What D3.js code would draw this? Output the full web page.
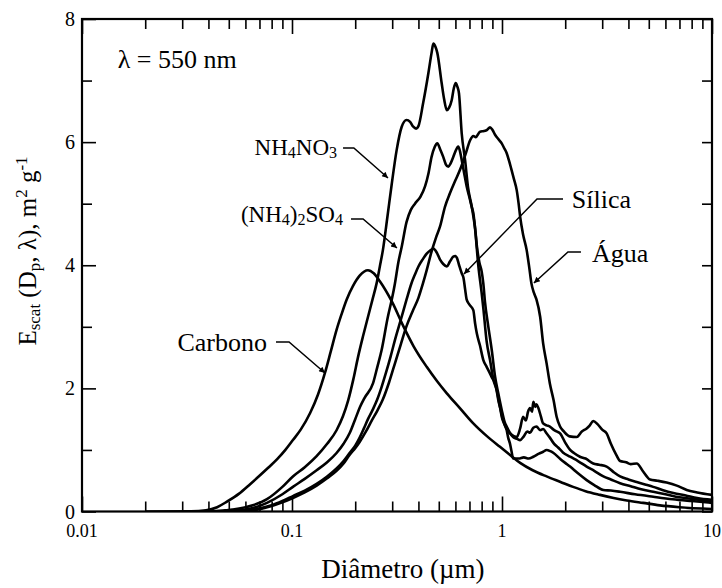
<!DOCTYPE html>
<html>
<head>
<meta charset="utf-8">
<script src="https://cdn.jsdelivr.net/npm/d3@7"></script>
<style>
  body { margin: 0; background: #fff; }
</style>
</head>
<body>
<div id="chart"></div>
<script>
// Mass scattering efficiency vs particle diameter, lambda = 550 nm
// each series: [diameter (um), Escat (m2/g)]

var carbono = [[0.02,0],[0.033,0.003],[0.039,0.02],[0.044,0.07],[0.049,0.16],[0.056,0.29],[0.063,0.44],[0.07,0.58],
  [0.077,0.71],[0.085,0.85],[0.093,1.0],[0.101,1.16],[0.11,1.33],[0.122,1.6],[0.133,1.9],[0.1435,2.25],[0.153,2.6],
  [0.163,2.95],[0.172,3.2],[0.182,3.44],[0.195,3.66],[0.21,3.83],[0.23,3.92],[0.245,3.87],[0.262,3.74],[0.3,3.4],
  [0.338,3.02],[0.38,2.68],[0.438,2.35],[0.49,2.12],[0.546,1.92],[0.63,1.68],[0.726,1.44],[0.85,1.22],[0.978,1.05],
  [1.1,0.91],[1.22,0.79],[1.4,0.67],[1.63,0.57],[1.9,0.48],[2.18,0.4],[2.5,0.33],[2.93,0.27],[3.4,0.22],[3.93,0.18],
  [4.7,0.14],[5.65,0.1],[7,0.07],[10,0.04]];

var nh4no3 = [[0.04,0],[0.052,0.03],[0.065,0.1],[0.076,0.2],[0.09,0.4],[0.101,0.57],[0.115,0.72],[0.131,0.9],
  [0.147,1.1],[0.163,1.32],[0.175,1.55],[0.185,1.8],[0.196,2.15],[0.206,2.5],[0.218,2.85],[0.23,3.16],[0.242,3.45],
  [0.253,3.71],[0.262,3.98],[0.271,4.25],[0.285,4.8],[0.298,5.3],[0.315,5.87],[0.333,6.25],[0.351,6.36],[0.365,6.33],
  [0.378,6.25],[0.39,6.22],[0.4,6.26],[0.421,6.63],[0.446,7.12],[0.462,7.45],[0.471,7.6],[0.482,7.55],[0.492,7.45],
  [0.516,6.96],[0.53,6.7],[0.546,6.52],[0.56,6.56],[0.576,6.68],[0.59,6.88],[0.602,6.96],[0.613,6.9],[0.624,6.79],
  [0.643,6.14],[0.667,5.71],[0.69,5.25],[0.718,4.95],[0.744,4.6],[0.771,4.0],[0.8,3.55],[0.815,3.3],[0.846,2.75],
  [0.877,2.46],[0.91,2.14],[0.944,1.97],[0.978,1.7],[1.01,1.5],[1.04,1.38],[1.07,1.3],[1.1,1.26],[1.175,1.21],
  [1.22,1.35],[1.26,1.54],[1.3,1.48],[1.33,1.62],[1.36,1.68],[1.39,1.62],[1.41,1.78],[1.44,1.7],[1.46,1.74],
  [1.49,1.68],[1.53,1.55],[1.57,1.43],[1.63,1.4],[1.69,1.38],[1.76,1.33],[1.82,1.3],[1.89,1.27],[2.0,1.12],
  [2.11,1.0],[2.2,0.95],[2.35,0.89],[2.5,0.86],[2.72,0.78],[2.9,0.76],[3.15,0.73],[3.4,0.64],[3.65,0.57],[4.0,0.52],
  [4.38,0.48],[4.8,0.44],[5.25,0.4],[5.8,0.35],[6.55,0.3],[7.5,0.26],[8.5,0.22],[10,0.19]];

var nh42so4 = [[0.045,0],[0.06,0.03],[0.076,0.14],[0.09,0.28],[0.101,0.4],[0.115,0.53],[0.131,0.67],[0.147,0.8],
  [0.163,0.95],[0.176,1.1],[0.188,1.27],[0.2,1.5],[0.211,1.7],[0.222,1.85],[0.243,2.08],[0.255,2.35],[0.267,2.62],
  [0.286,3.16],[0.299,3.45],[0.309,3.7],[0.321,4.05],[0.333,4.3],[0.351,4.7],[0.368,4.9],[0.385,5.0],[0.41,5.12],
  [0.43,5.28],[0.447,5.5],[0.462,5.76],[0.478,5.92],[0.492,5.98],[0.508,5.88],[0.525,5.76],[0.54,5.64],[0.555,5.6],
  [0.57,5.66],[0.586,5.76],[0.6,5.85],[0.619,5.93],[0.631,5.85],[0.643,5.71],[0.66,5.5],[0.679,5.28],[0.7,5.1],
  [0.717,4.95],[0.73,4.85],[0.745,4.6],[0.76,4.3],[0.78,4.05],[0.8,3.9],[0.815,3.7],[0.83,3.4],[0.861,3.0],
  [0.894,2.62],[0.927,2.19],[0.96,1.92],[0.997,1.65],[1.03,1.45],[1.053,1.38],[1.09,1.28],[1.13,1.21],[1.18,1.18],
  [1.22,1.16],[1.27,1.22],[1.32,1.3],[1.36,1.28],[1.41,1.36],[1.46,1.38],[1.52,1.32],[1.57,1.34],[1.63,1.27],
  [1.69,1.2],[1.76,1.11],[1.85,1.04],[1.95,0.96],[2.11,0.89],[2.3,0.82],[2.53,0.73],[2.75,0.66],[3.04,0.57],
  [3.3,0.52],[3.65,0.46],[4.1,0.41],[4.6,0.36],[5.25,0.32],[6,0.28],[7,0.23],[8.3,0.2],[10,0.16]];

var silica = [[0.05,0],[0.065,0.03],[0.08,0.1],[0.09,0.17],[0.101,0.25],[0.115,0.34],[0.131,0.45],[0.147,0.57],
  [0.163,0.7],[0.176,0.82],[0.188,0.95],[0.2,1.07],[0.21,1.2],[0.22,1.35],[0.23,1.5],[0.242,1.65],[0.254,1.81],
  [0.267,2.02],[0.28,2.25],[0.295,2.52],[0.31,2.8],[0.33,3.12],[0.351,3.44],[0.37,3.7],[0.385,3.85],[0.4,3.98],
  [0.42,4.1],[0.438,4.19],[0.455,4.24],[0.471,4.27],[0.49,4.2],[0.507,4.09],[0.525,4.02],[0.546,3.98],[0.565,4.06],
  [0.586,4.14],[0.6,4.15],[0.61,4.12],[0.625,4.0],[0.643,3.87],[0.655,3.8],[0.668,3.6],[0.679,3.44],[0.7,3.36],
  [0.73,3.27],[0.745,3.05],[0.759,2.89],[0.785,2.7],[0.815,2.46],[0.845,2.35],[0.877,2.24],[0.9,2.16],[0.927,2.08],
  [0.945,1.95],[0.96,1.81],[0.98,1.68],[0.997,1.54],[1.025,1.42],[1.053,1.32],[1.07,1.2],[1.09,1.11],[1.11,0.98],
  [1.13,0.86],[1.2,0.86],[1.27,0.88],[1.34,0.86],[1.41,0.89],[1.5,0.94],[1.57,0.97],[1.63,1.0],[1.7,0.98],
  [1.76,0.95],[1.9,0.85],[2.0,0.79],[2.11,0.73],[2.3,0.62],[2.53,0.51],[2.75,0.43],[3.04,0.35],[3.3,0.34],
  [3.65,0.32],[4.3,0.28],[5.25,0.24],[6.5,0.2],[8,0.17],[10,0.14]];

var agua = [[0.05,0],[0.065,0.02],[0.08,0.09],[0.09,0.15],[0.101,0.22],[0.115,0.31],[0.131,0.42],[0.147,0.54],
  [0.163,0.66],[0.176,0.78],[0.188,0.92],[0.2,1.03],[0.21,1.13],[0.225,1.3],[0.24,1.48],[0.255,1.64],[0.27,1.81],
  [0.29,2.1],[0.31,2.42],[0.33,2.72],[0.35,3.0],[0.375,3.25],[0.4,3.47],[0.42,3.7],[0.438,3.92],[0.46,4.2],
  [0.485,4.45],[0.507,4.63],[0.535,4.95],[0.565,5.17],[0.6,5.38],[0.631,5.55],[0.67,5.8],[0.705,6.03],[0.73,6.1],
  [0.75,6.08],[0.786,6.17],[0.82,6.18],[0.85,6.2],[0.877,6.24],[0.9,6.2],[0.927,6.12],[0.96,6.05],[0.997,5.98],
  [1.025,5.9],[1.053,5.82],[1.08,5.7],[1.11,5.55],[1.14,5.4],[1.175,5.22],[1.2,5.0],[1.22,4.79],[1.26,4.5],
  [1.31,4.25],[1.35,3.95],[1.38,3.71],[1.42,3.55],[1.46,3.44],[1.52,3.16],[1.57,2.73],[1.63,2.41],[1.69,2.08],
  [1.76,1.81],[1.82,1.54],[1.89,1.38],[1.97,1.3],[2.1,1.22],[2.27,1.21],[2.4,1.3],[2.53,1.35],[2.62,1.4],
  [2.72,1.47],[2.85,1.42],[3.0,1.33],[3.15,1.27],[3.3,1.1],[3.5,0.92],[3.65,0.82],[3.9,0.8],[4.1,0.77],[4.38,0.78],
  [4.7,0.65],[5.07,0.52],[5.5,0.5],[6.08,0.47],[6.8,0.42],[7.58,0.35],[8.5,0.31],[10,0.27]];

var series = [carbono, nh4no3, nh42so4, silica, agua];

// axis ticks
var xMajor = [0.01, 0.1, 1, 10];
var xMajorLabels = ["0.01", "0.1", "1", "10"];
var xMinor = [0.02,0.03,0.04,0.05,0.06,0.07,0.08,0.09, 0.2,0.3,0.4,0.5,0.6,0.7,0.8,0.9, 2,3,4,5,6,7,8,9];
var yMajor = [0, 2, 4, 6, 8];
var yMinor = [1, 3, 5, 7];

// curve labels: text parts [string, isSubscript], text anchor, leader points (all in data units)
var labels = [
  { parts: [["NH",0],["4",1],["NO",0],["3",1]], size: 23, at: [0.164, 5.79], anchor: "end",
    leader: [[0.175, 5.905], [0.197, 5.905], [0.2865, 5.417]] },
  { parts: [["(NH",0],["4",1],[")",0],["2",1],["SO",0],["4",1]], size: 23, at: [0.175, 4.70], anchor: "end",
    leader: [[0.191, 4.751], [0.218, 4.751], [0.316, 4.28]] },
  { parts: [["Carbono",0]], size: 26, at: [0.076, 2.607], anchor: "end",
    leader: [[0.0839, 2.753], [0.0968, 2.753], [0.1436, 2.25]] },
  { parts: [["Sílica",0]], size: 26, at: [2.15, 4.93], anchor: "start",
    leader: [[1.952, 5.076], [1.468, 5.076], [0.659, 3.858]] },
  { parts: [["Água",0]], size: 26, at: [2.68, 4.05], anchor: "start",
    leader: [[2.377, 4.215], [2.061, 4.215], [1.419, 3.712]] }
];

(function() {
  var width = 722, height = 588;
  var serif = "'Liberation Serif'";

  var svg = d3.select("#chart").append("svg")
    .attr("width", width)
    .attr("height", height);

  var xScale = d3.scaleLog().domain([0.01, 10]).range([82, 712]);
  var yScale = d3.scaleLinear().domain([0, 8]).range([511.5, 19]);

  var x0 = xScale.range()[0], x1 = xScale.range()[1];
  var y0 = yScale.range()[1], y1 = yScale.range()[0];

  svg.append("defs").append("clipPath").attr("id", "plot")
    .append("rect").attr("x", x0).attr("y", y0).attr("width", x1 - x0).attr("height", y1 - y0);

  var marker = svg.select("defs").append("marker")
    .attr("id", "arrow")
    .attr("viewBox", "0 0 10 10")
    .attr("refX", 10).attr("refY", 5)
    .attr("markerUnits", "userSpaceOnUse")
    .attr("markerWidth", 10).attr("markerHeight", 6)
    .attr("orient", "auto");
  marker.append("path").attr("d", "M0,0 L10,5 L0,10 z").attr("fill", "#000");

  // ticks (inward on all four sides)
  function drawTicks(axis, values, len) {
    var g = svg.append("g")
      .call(axis.tickValues(values).tickSizeInner(-len).tickSizeOuter(0).tickFormat(""));
    g.select(".domain").remove();
    g.selectAll(".tick line").attr("stroke", "#000").attr("stroke-width", 1.6);
    return g;
  }
  drawTicks(d3.axisBottom(xScale), xMajor, 15).attr("transform", "translate(0," + y1 + ")");
  drawTicks(d3.axisBottom(xScale), xMinor, 10).attr("transform", "translate(0," + y1 + ")");
  drawTicks(d3.axisTop(xScale), xMajor, 15).attr("transform", "translate(0," + y0 + ")");
  drawTicks(d3.axisTop(xScale), xMinor, 10).attr("transform", "translate(0," + y0 + ")");
  drawTicks(d3.axisLeft(yScale), yMajor, 14).attr("transform", "translate(" + x0 + ",0)");
  drawTicks(d3.axisLeft(yScale), yMinor, 10).attr("transform", "translate(" + x0 + ",0)");
  drawTicks(d3.axisRight(yScale), yMajor, 10).attr("transform", "translate(" + x1 + ",0)");
  drawTicks(d3.axisRight(yScale), yMinor, 10).attr("transform", "translate(" + x1 + ",0)");

  // frame
  svg.append("rect")
    .attr("x", x0).attr("y", y0)
    .attr("width", x1 - x0).attr("height", y1 - y0)
    .attr("fill", "none").attr("stroke", "#000").attr("stroke-width", 2.2);

  // tick labels
  svg.selectAll(".xlab").data(xMajor).enter().append("text")
    .attr("x", function(d) { return xScale(d); })
    .attr("y", 537)
    .attr("text-anchor", "middle")
    .style("font-family", serif)
    .attr("font-size", 18)
    .text(function(d, i) { return xMajorLabels[i]; });

  svg.selectAll(".ylab").data(yMajor).enter().append("text")
    .attr("x", x0 - 7)
    .attr("y", function(d) { return yScale(d) + 7; })
    .attr("text-anchor", "end")
    .style("font-family", serif)
    .attr("font-size", 20)
    .text(function(d) { return d; });

  // axis titles
  svg.append("text")
    .attr("x", 403).attr("y", 578)
    .attr("text-anchor", "middle")
    .style("font-family", serif)
    .attr("font-size", 27)
    .text("Diâmetro (µm)");

  var yt = svg.append("text")
    .attr("transform", "translate(36,251) rotate(-90)")
    .attr("text-anchor", "middle")
    .style("font-family", serif)
    .attr("font-size", 25);
  yt.append("tspan").text("E");
  yt.append("tspan").attr("font-size", 17).attr("dy", 4).text("scat");
  yt.append("tspan").attr("dy", -4).text(" (D");
  yt.append("tspan").attr("font-size", 17).attr("dy", 4).text("p");
  yt.append("tspan").attr("dy", -4).text(", λ), m");
  yt.append("tspan").attr("font-size", 17).attr("dy", -9).text("2");
  yt.append("tspan").attr("dy", 9).text(" g");
  yt.append("tspan").attr("font-size", 17).attr("dy", -9).text("-1");

  // curves
  var line = d3.line()
    .x(function(d) { return xScale(d[0]); })
    .y(function(d) { return yScale(d[1]); })
    .curve(d3.curveMonotoneX);

  svg.append("g").attr("clip-path", "url(#plot)")
    .selectAll("path").data(series).enter().append("path")
    .attr("d", line)
    .attr("fill", "none")
    .attr("stroke", "#000")
    .attr("stroke-width", 2.6)
    .attr("stroke-linejoin", "round");

  // wavelength note
  svg.append("text")
    .attr("x", xScale(0.0148)).attr("y", yScale(7.204))
    .style("font-family", serif)
    .attr("font-size", 26)
    .text("λ = 550 nm");

  // curve labels with leader arrows
  var leader = d3.line()
    .x(function(d) { return xScale(d[0]); })
    .y(function(d) { return yScale(d[1]); });

  labels.forEach(function(lb) {
    var t = svg.append("text")
      .attr("x", xScale(lb.at[0])).attr("y", yScale(lb.at[1]))
      .attr("text-anchor", lb.anchor)
      .style("font-family", serif)
      .attr("font-size", lb.size);
    var shifted = false;
    lb.parts.forEach(function(p) {
      var s = t.append("tspan").text(p[0]);
      if (p[1] && !shifted) { s.attr("font-size", lb.size * 0.7).attr("dy", 3); shifted = true; }
      else if (p[1]) { s.attr("font-size", lb.size * 0.7); }
      else if (shifted) { s.attr("dy", -3); shifted = false; }
    });
    svg.append("path")
      .attr("d", leader(lb.leader))
      .attr("fill", "none")
      .attr("stroke", "#000")
      .attr("stroke-width", 1.5)
      .attr("marker-end", "url(#arrow)");
  });
})();
</script>
</body>
</html>
